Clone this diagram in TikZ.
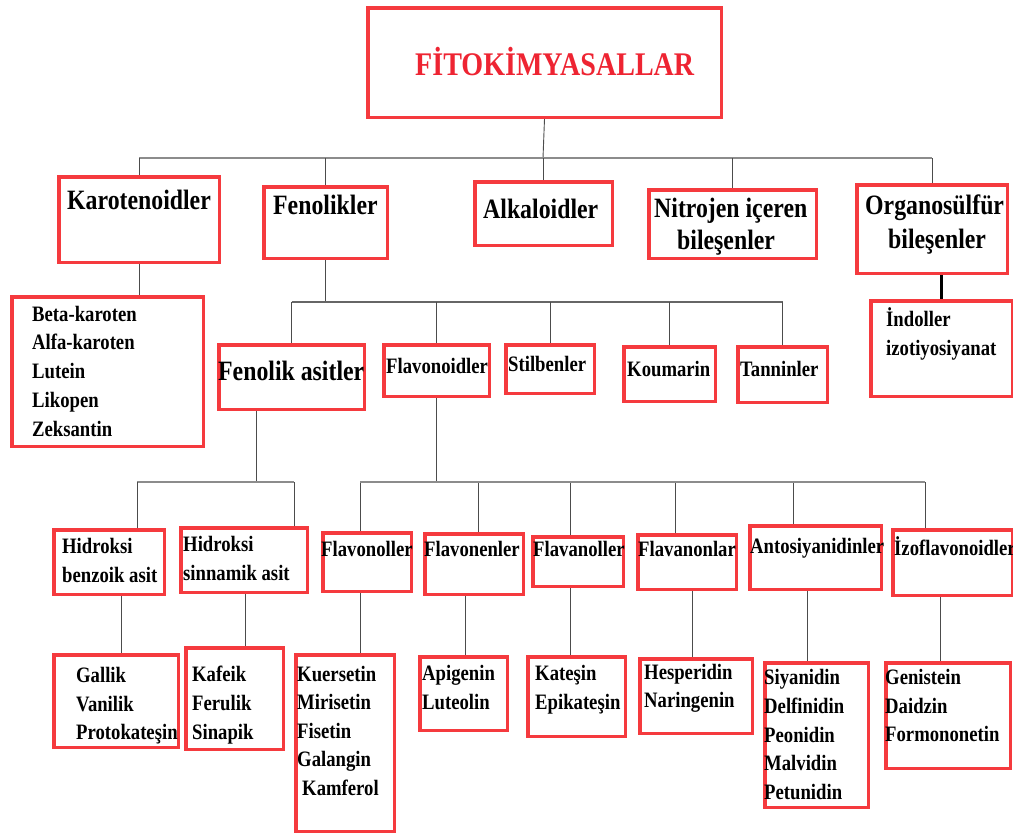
\documentclass[tikz,border=0pt]{standalone}
\usepackage{fontspec}
\setmainfont{Liberation Serif}[FakeStretch=0.85]
\definecolor{boxred}{RGB}{245,58,62}
\definecolor{titlered}{RGB}{238,36,50}
\begin{document}
\begin{tikzpicture}[x=1pt,y=-1pt,
  cbox/.style={draw=boxred,line width=3.5pt,inner sep=0pt},
  toptext/.style={anchor=base west,inner sep=0pt,font=\bfseries\fontsize{28}{32}\selectfont},
  subtext/.style={anchor=base west,inner sep=0pt,font=\bfseries\fontsize{22}{26}\selectfont},
  conn/.style={draw=black!70,line width=0.9pt},
  busline/.style={draw=black!45,line width=1.8pt},
  link/.style={draw=black,line width=2.6pt}]
  \useasboundingbox (0,0) rectangle (1013,835);

  % boxes
  \node[cbox,minimum width=353.5,minimum height=109.5] (title) at (544.5,62.5) {};
  \node[cbox,minimum width=160.5,minimum height=85.5] (karo) at (139,219.5) {};
  \node[cbox,minimum width=123.5,minimum height=71.5] (feno) at (325.5,222.5) {};
  \node[cbox,minimum width=137.5,minimum height=63.5] (alka) at (543.5,213.5) {};
  \node[cbox,minimum width=167.5,minimum height=68.5] (nitr) at (732.5,224) {};
  \node[cbox,minimum width=150.5,minimum height=88.5] (orga) at (932,229) {};
  \node[cbox,minimum width=191.5,minimum height=149.5] (karl) at (107.5,371.5) {};
  \node[cbox,minimum width=145.5,minimum height=64.5] (fasit) at (291.5,377) {};
  \node[cbox,minimum width=105.5,minimum height=51.5] (flvd) at (436.5,370.5) {};
  \node[cbox,minimum width=88.5,minimum height=48.5] (stil) at (550,369) {};
  \node[cbox,minimum width=91.5,minimum height=54.5] (koum) at (669.5,374) {};
  \node[cbox,minimum width=89.5,minimum height=55.5] (tann) at (782.5,374.5) {};
  \node[cbox,minimum width=141.5,minimum height=95.5] (indo) at (941.5,348.5) {};
  \node[cbox,minimum width=110.5,minimum height=64.5] (hb) at (109,562) {};
  \node[cbox,minimum width=126.5,minimum height=64.5] (hs) at (244,560) {};
  \node[cbox,minimum width=88.5,minimum height=58.5] (flol) at (367,562) {};
  \node[cbox,minimum width=98.5,minimum height=60.5] (flen) at (474,564) {};
  \node[cbox,minimum width=90.5,minimum height=49.5] (flan) at (578,561.5) {};
  \node[cbox,minimum width=98.5,minimum height=54.5] (flnn) at (687,562) {};
  \node[cbox,minimum width=131.5,minimum height=63.5] (anto) at (815.5,557.5) {};
  \node[cbox,minimum width=119.5,minimum height=65.5] (izo) at (952.5,562.5) {};
  \node[cbox,minimum width=124.5,minimum height=92.5] (gall) at (116,701) {};
  \node[cbox,minimum width=97.5,minimum height=101.5] (kaf) at (234.5,698.5) {};
  \node[cbox,minimum width=98.5,minimum height=176.5] (kuer) at (345,743) {};
  \node[cbox,minimum width=87.5,minimum height=73.5] (api) at (463.5,693.5) {};
  \node[cbox,minimum width=97.5,minimum height=79.5] (kate) at (576.5,696.5) {};
  \node[cbox,minimum width=112.5,minimum height=74.5] (hesp) at (696,696) {};
  \node[cbox,minimum width=103.5,minimum height=144.5] (siya) at (816.5,735) {};
  \node[cbox,minimum width=124.5,minimum height=105.5] (geni) at (948,715.5) {};

  % labels
  \node[anchor=base west,inner sep=0pt,text=titlered,font=\bfseries\fontsize{33}{36}\selectfont] (title-t) at (415,75) {FİTOKİMYASALLAR};
  \node[toptext] (karo-t) at (67,209) {Karotenoidler};
  \node[toptext] (feno-t) at (273,214) {Fenolikler};
  \node[toptext] (alka-t) at (483,218) {Alkaloidler};
  \node[toptext] (nitr-t1) at (654,217) {Nitrojen içeren};
  \node[toptext] (nitr-t2) at (677,249) {bileşenler};
  \node[toptext] (orga-t1) at (865,214) {Organosülfür};
  \node[toptext] (orga-t2) at (888,248) {bileşenler};
  \node[toptext] (fasit-t) at (218,380) {Fenolik asitler};
  \node[subtext] (flvd-t) at (386,373.5) {Flavonoidler};
  \node[subtext] (stil-t) at (508,371.5) {Stilbenler};
  \node[subtext] (koum-t) at (627,376.5) {Koumarin};
  \node[subtext] (tann-t) at (740,376.5) {Tanninler};
  \node[subtext] (indo-t1) at (886,326.5) {İndoller};
  \node[subtext] (indo-t2) at (886,355.5) {izotiyosiyanat};
  \node[subtext] (hb-t1) at (62,553) {Hidroksi};
  \node[subtext] (hb-t2) at (62,582) {benzoik asit};
  \node[subtext] (hs-t1) at (183,551) {Hidroksi};
  \node[subtext] (hs-t2) at (183,580) {sinnamik asit};
  \node[subtext] (flol-t) at (321,556.5) {Flavonoller};
  \node[subtext] (flen-t) at (424,556.5) {Flavonenler};
  \node[subtext] (flan-t) at (533,556.5) {Flavanoller};
  \node[subtext] (flnn-t) at (638,556.5) {Flavanonlar};
  \node[subtext] (anto-t) at (750,553) {Antosiyanidinler};
  \node[subtext] (izo-t) at (894,555) {İzoflavonoidler};

  % lists
  \foreach \w [count=\i from 0] in {Beta-karoten,Alfa-karoten,Lutein,Likopen,Zeksantin}
    \node[subtext] (karl-\i) at (32,321+28.75*\i) {\w};
  \foreach \w [count=\i from 0] in {Gallik,Vanilik,Protokateşin}
    \node[subtext] (gall-\i) at (76,682.5+28.5*\i) {\w};
  \foreach \w [count=\i from 0] in {Kafeik,Ferulik,Sinapik}
    \node[subtext] (kaf-\i) at (192,681+29*\i) {\w};
  \foreach \w [count=\i from 0] in {Kuersetin,Mirisetin,Fisetin,Galangin,\hspace{5pt}Kamferol}
    \node[subtext] (kuer-\i) at (297,681+28.5*\i) {\w};
  \foreach \w [count=\i from 0] in {Apigenin,Luteolin}
    \node[subtext] (api-\i) at (422,680.5+29*\i) {\w};
  \foreach \w [count=\i from 0] in {Kateşin,Epikateşin}
    \node[subtext] (kate-\i) at (535,680.5+29*\i) {\w};
  \foreach \w [count=\i from 0] in {Hesperidin,Naringenin}
    \node[subtext] (hesp-\i) at (644,679.5+28*\i) {\w};
  \foreach \w [count=\i from 0] in {Siyanidin,Delfinidin,Peonidin,Malvidin,Petunidin}
    \node[subtext] (siya-\i) at (764,684.5+28.75*\i) {\w};
  \foreach \w [count=\i from 0] in {Genistein,Daidzin,Formononetin}
    \node[subtext] (geni-\i) at (885,684.5+28.5*\i) {\w};

  % first level
  \coordinate (bus1) at (543,158);
  \draw[conn] (title.south) -- (bus1);
  \draw[busline] (karo.north |- bus1) -- (orga.north |- bus1);
  \foreach \n in {karo,feno,alka,nitr,orga}
    \draw[conn] (\n.north) -- (\n.north |- bus1);
  \draw[conn] (karo.south) -- (karo.south |- karl.north);
  \draw[link] (indo.north |- orga.south) -- (indo.north);

  % fenolikler
  \coordinate (bus2) at (320,302);
  \draw[conn] (feno.south) -- (feno.south |- bus2);
  \draw[busline,draw=black!60,line width=1.4pt] (fasit.north |- bus2) -- (tann.north |- bus2);
  \foreach \n in {fasit,flvd,stil,koum,tann}
    \draw[conn] (\n.north) -- (\n.north |- bus2);

  % fenolik asitler
  \coordinate (bus3) at (256,482);
  \coordinate (hb-top) at ([xshift=28]hb.north);
  \coordinate (hs-top) at ([xshift=50]hs.north);
  \draw[conn] ([xshift=-35.5]fasit.south) -- (bus3);
  \draw[busline] (hb-top |- bus3) -- (hs-top |- bus3);
  \draw[conn] (hb-top) -- (hb-top |- bus3);
  \draw[conn] (hs-top) -- (hs-top |- bus3);

  % flavonoidler
  \coordinate (bus4) at (435,482);
  \draw[conn] (flvd.south) -- (flvd.south |- bus4);
  \foreach \n/\s in {flol/-7,flen/4,flan/-8,flnn/-12,anto/-22.5,izo/-27.5} {
    \coordinate (\n-top) at ([xshift=\s]\n.north);
    \draw[conn] (\n-top) -- (\n-top |- bus4);
  }
  \draw[busline] (flol-top |- bus4) -- (izo-top |- bus4);

  % lists below
  \foreach \a/\b/\s in {hb/gall/5,hs/kaf/10.5,flol/kuer/15,flen/api/1.5,flan/kate/-6.5,flnn/hesp/-4,anto/siya/-9.5,izo/geni/-8} {
    \coordinate (\b-top) at ([xshift=\s]\b.north);
    \draw[conn] (\b-top |- \a.south) -- (\b-top);
  }
\end{tikzpicture}
\end{document}
